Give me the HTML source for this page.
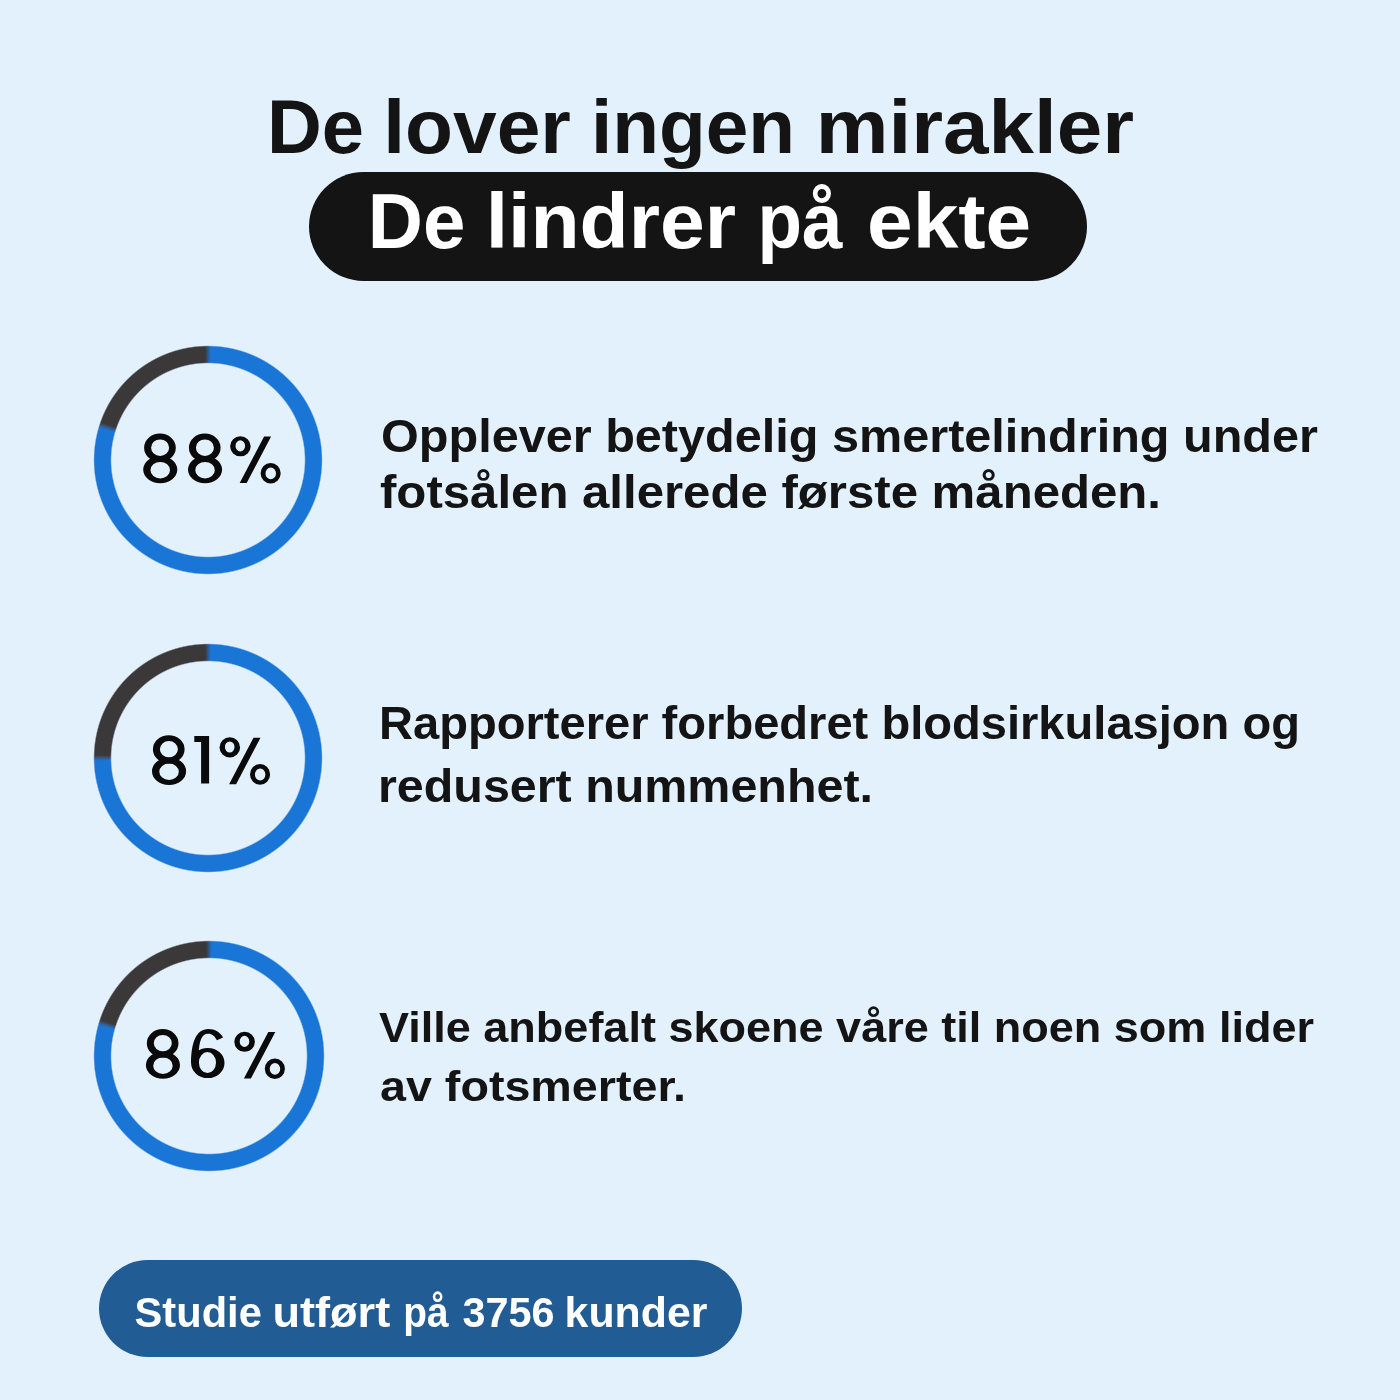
<!DOCTYPE html>
<html><head><meta charset="utf-8"><style>
html,body{margin:0;padding:0;}
body{width:1400px;height:1400px;background:#e3f1fd;position:relative;overflow:hidden;font-family:"Liberation Sans",sans-serif;}
.ring{position:absolute;border-radius:50%;}
.pill{position:absolute;}
svg{position:absolute;left:0;top:0;will-change:transform;}
</style></head><body>
<div class="pill" style="left:309px;top:172px;width:778px;height:109px;border-radius:54.5px;background:#141414;"></div>
<div class="pill" style="left:99px;top:1260px;width:643px;height:97px;border-radius:48.5px;background:#215d94;"></div>
<div class="ring" style="left:92.5px;top:345px;width:230px;height:230px;background:conic-gradient(from 0deg, color-mix(in srgb, #1975d6 50%, #3b383a) 0deg, #1975d6 1.5deg, #1975d6 286.5deg, #3b383a 289.5deg, #3b383a 358.5deg, color-mix(in srgb, #1975d6 50%, #3b383a) 360deg);-webkit-mask:radial-gradient(circle closest-side, transparent 96.3px, #000 97.7px, #000 113.3px, transparent 114.7px);mask:radial-gradient(circle closest-side, transparent 96.3px, #000 97.7px, #000 113.3px, transparent 114.7px);"></div>
<div class="ring" style="left:92.69999999999999px;top:643px;width:230px;height:230px;background:conic-gradient(from 0deg, color-mix(in srgb, #1975d6 50%, #3b383a) 0deg, #1975d6 1.5deg, #1975d6 268.5deg, #3b383a 271.5deg, #3b383a 358.5deg, color-mix(in srgb, #1975d6 50%, #3b383a) 360deg);-webkit-mask:radial-gradient(circle closest-side, transparent 96.3px, #000 97.7px, #000 113.3px, transparent 114.7px);mask:radial-gradient(circle closest-side, transparent 96.3px, #000 97.7px, #000 113.3px, transparent 114.7px);"></div>
<div class="ring" style="left:93px;top:940px;width:232px;height:232px;background:conic-gradient(from 0deg, color-mix(in srgb, #1975d6 50%, #3b383a) 0deg, #1975d6 1.5deg, #1975d6 285.5deg, #3b383a 288.5deg, #3b383a 358.5deg, color-mix(in srgb, #1975d6 50%, #3b383a) 360deg);-webkit-mask:radial-gradient(circle closest-side, transparent 97.3px, #000 98.7px, #000 114.3px, transparent 115.7px);mask:radial-gradient(circle closest-side, transparent 97.3px, #000 98.7px, #000 114.3px, transparent 115.7px);"></div>
<svg width="1400" height="1400" viewBox="0 0 1400 1400">
<text x="267.0" y="152.5" font-family="Liberation Sans" font-weight="bold" font-size="76" fill="#141414" textLength="97.0" lengthAdjust="spacingAndGlyphs">De</text>
<text x="383.3" y="152.5" font-family="Liberation Sans" font-weight="bold" font-size="76" fill="#141414" textLength="187.6" lengthAdjust="spacingAndGlyphs">lover</text>
<text x="591.1" y="152.5" font-family="Liberation Sans" font-weight="bold" font-size="76" fill="#141414" textLength="204.0" lengthAdjust="spacingAndGlyphs">ingen</text>
<text x="815.7" y="152.5" font-family="Liberation Sans" font-weight="bold" font-size="76" fill="#141414" textLength="318.3" lengthAdjust="spacingAndGlyphs">mirakler</text>
<text x="367.8" y="248" font-family="Liberation Sans" font-weight="bold" font-size="78" fill="#ffffff" textLength="97.6" lengthAdjust="spacingAndGlyphs">De</text>
<text x="485.7" y="248" font-family="Liberation Sans" font-weight="bold" font-size="78" fill="#ffffff" textLength="250.3" lengthAdjust="spacingAndGlyphs">lindrer</text>
<text x="757.5" y="248" font-family="Liberation Sans" font-weight="bold" font-size="78" fill="#ffffff" textLength="85.0" lengthAdjust="spacingAndGlyphs">på</text>
<text x="867.0" y="248" font-family="Liberation Sans" font-weight="bold" font-size="78" fill="#ffffff" textLength="164.25" lengthAdjust="spacingAndGlyphs">ekte</text>
<text x="381.0" y="452" font-family="Liberation Sans" font-weight="bold" font-size="47" fill="#141414" textLength="937.0" lengthAdjust="spacingAndGlyphs">Opplever betydelig smertelindring under</text>
<text x="380.0" y="507.7" font-family="Liberation Sans" font-weight="bold" font-size="47" fill="#141414" textLength="781.0" lengthAdjust="spacingAndGlyphs">fotsålen allerede første måneden.</text>
<text x="379.0" y="739" font-family="Liberation Sans" font-weight="bold" font-size="45.5" fill="#141414" textLength="921.0" lengthAdjust="spacingAndGlyphs">Rapporterer forbedret blodsirkulasjon og</text>
<text x="378.0" y="801.5" font-family="Liberation Sans" font-weight="bold" font-size="45.5" fill="#141414" textLength="495.0" lengthAdjust="spacingAndGlyphs">redusert nummenhet.</text>
<text x="379.0" y="1041.5" font-family="Liberation Sans" font-weight="bold" font-size="43" fill="#141414" textLength="935.0" lengthAdjust="spacingAndGlyphs">Ville anbefalt skoene våre til noen som lider</text>
<text x="380.0" y="1100.5" font-family="Liberation Sans" font-weight="bold" font-size="43" fill="#141414" textLength="306.0" lengthAdjust="spacingAndGlyphs">av fotsmerter.</text>
<text x="134.6" y="1327" font-family="Liberation Sans" font-weight="bold" font-size="43" fill="#ffffff" textLength="127.2" lengthAdjust="spacingAndGlyphs">Studie</text>
<text x="272.4" y="1327" font-family="Liberation Sans" font-weight="bold" font-size="43" fill="#ffffff" textLength="117.8" lengthAdjust="spacingAndGlyphs">utført</text>
<text x="403.2" y="1327" font-family="Liberation Sans" font-weight="bold" font-size="43" fill="#ffffff" textLength="45.4" lengthAdjust="spacingAndGlyphs">på</text>
<text x="462.6" y="1327" font-family="Liberation Sans" font-weight="bold" font-size="43" fill="#ffffff" textLength="92.0" lengthAdjust="spacingAndGlyphs">3756</text>
<text x="564.6" y="1327" font-family="Liberation Sans" font-weight="bold" font-size="43" fill="#ffffff" textLength="142.8" lengthAdjust="spacingAndGlyphs">kunder</text>
<g transform="translate(143.2 433.6)"><path fill-rule="evenodd" fill="#0a0a0a" d="M0.90 14.15A15.85 14.15 0 1 0 32.60 14.15A15.85 14.15 0 1 0 0.90 14.15ZM7.90 14.05A9.0 8.25 0 1 0 25.90 14.05A9.0 8.25 0 1 0 7.90 14.05Z"/><path fill-rule="evenodd" fill="#0a0a0a" d="M0.00 36.00A17.05 13.7 0 1 0 34.10 36.00A17.05 13.7 0 1 0 0.00 36.00ZM7.30 36.55A9.75 8.25 0 1 0 26.80 36.55A9.75 8.25 0 1 0 7.30 36.55Z"/></g>
<g transform="translate(188.0 433.6)"><path fill-rule="evenodd" fill="#0a0a0a" d="M0.90 14.15A15.85 14.15 0 1 0 32.60 14.15A15.85 14.15 0 1 0 0.90 14.15ZM7.90 14.05A9.0 8.25 0 1 0 25.90 14.05A9.0 8.25 0 1 0 7.90 14.05Z"/><path fill-rule="evenodd" fill="#0a0a0a" d="M0.00 36.00A17.05 13.7 0 1 0 34.10 36.00A17.05 13.7 0 1 0 0.00 36.00ZM7.30 36.55A9.75 8.25 0 1 0 26.80 36.55A9.75 8.25 0 1 0 7.30 36.55Z"/></g>
<g transform="translate(230.1 436.3)"><path fill-rule="evenodd" fill="#0a0a0a" d="M0.00 10.00A10.3 10.05 0 1 0 20.60 10.00A10.3 10.05 0 1 0 0.00 10.00ZM5.40 9.60A4.8 5.55 0 1 0 15.00 9.60A4.8 5.55 0 1 0 5.40 9.60Z"/><path fill-rule="evenodd" fill="#0a0a0a" d="M30.50 37.00A10.05 10.3 0 1 0 50.60 37.00A10.05 10.3 0 1 0 30.50 37.00ZM35.40 37.10A5.25 5.9 0 1 0 45.90 37.10A5.25 5.9 0 1 0 35.40 37.10Z"/><path d="M9.6 46.8H16.6L41 0.3H34Z" fill="#0a0a0a"/></g>
<g transform="translate(152.0 735.2)"><path fill-rule="evenodd" fill="#0a0a0a" d="M0.90 14.15A15.85 14.15 0 1 0 32.60 14.15A15.85 14.15 0 1 0 0.90 14.15ZM7.90 14.05A9.0 8.25 0 1 0 25.90 14.05A9.0 8.25 0 1 0 7.90 14.05Z"/><path fill-rule="evenodd" fill="#0a0a0a" d="M0.00 36.00A17.05 13.7 0 1 0 34.10 36.00A17.05 13.7 0 1 0 0.00 36.00ZM7.30 36.55A9.75 8.25 0 1 0 26.80 36.55A9.75 8.25 0 1 0 7.30 36.55Z"/></g>
<g transform="translate(194.3 736.0)"><path d="M0 0H14.8V47.6H6.8V6H0Z" fill="#0a0a0a"/></g>
<g transform="translate(219.5 737.4)"><path fill-rule="evenodd" fill="#0a0a0a" d="M0.00 10.00A10.3 10.05 0 1 0 20.60 10.00A10.3 10.05 0 1 0 0.00 10.00ZM5.40 9.60A4.8 5.55 0 1 0 15.00 9.60A4.8 5.55 0 1 0 5.40 9.60Z"/><path fill-rule="evenodd" fill="#0a0a0a" d="M30.50 37.00A10.05 10.3 0 1 0 50.60 37.00A10.05 10.3 0 1 0 30.50 37.00ZM35.40 37.10A5.25 5.9 0 1 0 45.90 37.10A5.25 5.9 0 1 0 35.40 37.10Z"/><path d="M9.6 46.8H16.6L41 0.3H34Z" fill="#0a0a0a"/></g>
<g transform="translate(145.9 1029.1)"><path fill-rule="evenodd" fill="#0a0a0a" d="M0.90 14.15A15.85 14.15 0 1 0 32.60 14.15A15.85 14.15 0 1 0 0.90 14.15ZM7.90 14.05A9.0 8.25 0 1 0 25.90 14.05A9.0 8.25 0 1 0 7.90 14.05Z"/><path fill-rule="evenodd" fill="#0a0a0a" d="M0.00 36.00A17.05 13.7 0 1 0 34.10 36.00A17.05 13.7 0 1 0 0.00 36.00ZM7.30 36.55A9.75 8.25 0 1 0 26.80 36.55A9.75 8.25 0 1 0 7.30 36.55Z"/></g>
<g transform="translate(191.1 1029.0)"><path fill-rule="evenodd" fill="#0a0a0a" d="M0.00 34.00A16.7 15.1 0 1 0 33.40 34.00A16.7 15.1 0 1 0 0.00 34.00ZM7.80 33.60A8.55 10.5 0 1 0 24.90 33.60A8.55 10.5 0 1 0 7.80 33.60Z"/><path fill="#0a0a0a" d="M0 34C0 14 5 0 17.2 0C24 0 29 3 32 8.6L25.8 11.2C23.5 7 21 4.7 17.2 4.7C10.5 4.7 7.7 12 7.7 26L7.7 34Z"/></g>
<g transform="translate(234.3 1031.8)"><path fill-rule="evenodd" fill="#0a0a0a" d="M0.00 10.00A10.3 10.05 0 1 0 20.60 10.00A10.3 10.05 0 1 0 0.00 10.00ZM5.40 9.60A4.8 5.55 0 1 0 15.00 9.60A4.8 5.55 0 1 0 5.40 9.60Z"/><path fill-rule="evenodd" fill="#0a0a0a" d="M30.50 37.00A10.05 10.3 0 1 0 50.60 37.00A10.05 10.3 0 1 0 30.50 37.00ZM35.40 37.10A5.25 5.9 0 1 0 45.90 37.10A5.25 5.9 0 1 0 35.40 37.10Z"/><path d="M9.6 46.8H16.6L41 0.3H34Z" fill="#0a0a0a"/></g>
</svg>
</body></html>
